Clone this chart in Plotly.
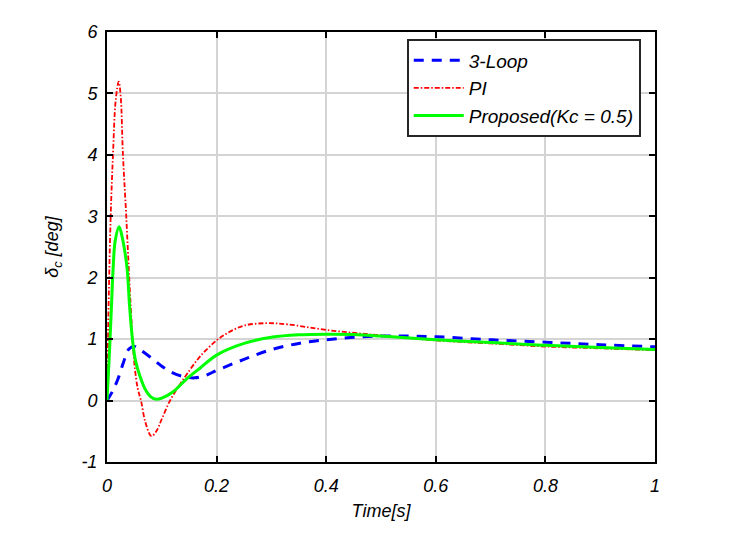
import plotly.graph_objects as go

# 3-Loop autopilot
t_loop = [0, 0.01, 0.02, 0.03, 0.04, 0.05, 0.06, 0.08, 0.10, 0.12, 0.14, 0.16,
          0.18, 0.20, 0.25, 0.30, 0.35, 0.40, 0.45, 0.50, 0.55, 0.60, 0.70,
          0.80, 0.90, 1.00]
d_loop = [0, 0.15, 0.35, 0.62, 0.84, 0.88, 0.83, 0.70, 0.56, 0.45, 0.39, 0.37,
          0.41, 0.49, 0.67, 0.83, 0.93, 0.99, 1.03, 1.05, 1.05, 1.04, 0.99,
          0.95, 0.91, 0.875]

# PI
t_pi = [0, 0.003, 0.0068, 0.011, 0.016, 0.0214, 0.025, 0.029, 0.035, 0.043,
        0.05, 0.056, 0.062, 0.07, 0.081, 0.09, 0.10, 0.115, 0.13, 0.145, 0.17,
        0.20, 0.22, 0.25, 0.29, 0.33, 0.40, 0.50, 0.60, 0.70, 0.80, 0.90, 1.00]
d_pi = [0, 1.58, 3.02, 4.02, 4.9, 5.19, 4.95, 4.02, 3.02, 1.58,
        0.6, 0.2, 0.0, -0.35, -0.58, -0.5, -0.3, 0.0, 0.22, 0.42, 0.72,
        0.98, 1.1, 1.22, 1.26, 1.24, 1.15, 1.06, 0.98, 0.93, 0.88, 0.85, 0.82]

# Proposed (Kc = 0.5)
t_prop = [0, 0.004, 0.008, 0.011, 0.015, 0.022, 0.028, 0.033, 0.037, 0.0415,
          0.047, 0.052, 0.06, 0.07, 0.08, 0.09, 0.10, 0.12, 0.145, 0.17, 0.20,
          0.25, 0.30, 0.35, 0.40, 0.45, 0.50, 0.60, 0.70, 0.80, 0.90, 1.00]
d_prop = [0, 0.7, 1.5, 2.12, 2.6, 2.83, 2.65, 2.4, 2.12, 1.5,
          0.95, 0.65, 0.4, 0.18, 0.06, 0.02, 0.04, 0.14, 0.35, 0.53, 0.74,
          0.93, 1.03, 1.07, 1.08, 1.075, 1.05, 0.99, 0.945, 0.90, 0.865, 0.83]

x_ticks = [0, 0.2, 0.4, 0.6, 0.8, 1]
x_ticklabels = ["0", "0.2", "0.4", "0.6", "0.8", "1"]
y_ticks = [-1, 0, 1, 2, 3, 4, 5, 6]
y_ticklabels = ["-1", "0", "1", "2", "3", "4", "5", "6"]

FONT = "Liberation Sans, Arial"

fig = go.Figure()
fig.add_trace(go.Scatter(x=t_loop, y=d_loop, mode="lines", name="<i>3-Loop</i>",
                         line=dict(color="#0000ff", width=3, dash="10px,8px", shape="spline")))
fig.add_trace(go.Scatter(x=t_pi, y=d_pi, mode="lines", name="<i>PI</i>",
                         line=dict(color="#ff0000", width=1.8, dash="5px,2px,1.5px,2px", shape="spline")))
fig.add_trace(go.Scatter(x=t_prop, y=d_prop, mode="lines", name="<i>Proposed(Kc = 0.5)</i>",
                         line=dict(color="#00ff00", width=3, shape="spline")))

axis_common = dict(
    showline=True, linecolor="black", linewidth=2, mirror="ticks",
    ticks="inside", ticklen=6, tickwidth=2, tickcolor="black",
    showgrid=True, gridcolor="#d4d4d4", gridwidth=1.5, zeroline=False,
    automargin=False,
    tickfont=dict(family=FONT, size=18, color="black"),
)

fig.update_xaxes(range=[0, 1], tickvals=x_ticks,
                 ticktext=["<i>%s</i>" % s for s in x_ticklabels],
                 ticklabelstandoff=6,
                 title=dict(text="<i>Time[s]</i>", standoff=10,
                            font=dict(family=FONT, size=18, color="black")),
                 **axis_common)
fig.update_yaxes(range=[-1, 6], tickvals=y_ticks,
                 ticktext=["<i>%s</i>" % s for s in y_ticklabels],
                 ticklabelstandoff=4,
                 title=dict(text="<i>δ<sub>c</sub> [deg]</i>", standoff=18,
                            font=dict(family=FONT, size=18, color="black")),
                 **axis_common)

# page body has an 8px margin, so shift the plot area back
fig.update_layout(
    width=737, height=538,
    margin=dict(l=99, r=90, t=24, b=84),
    plot_bgcolor="white", paper_bgcolor="white",
    showlegend=True,
    legend=dict(x=0.974, y=0.983, xanchor="right", yanchor="top",
                bgcolor="white", bordercolor="#262626", borderwidth=2,
                itemwidth=50, entrywidth=220, entrywidthmode="pixels",
                font=dict(family=FONT, size=19, color="black")),
)

fig.write_html("out.html")
